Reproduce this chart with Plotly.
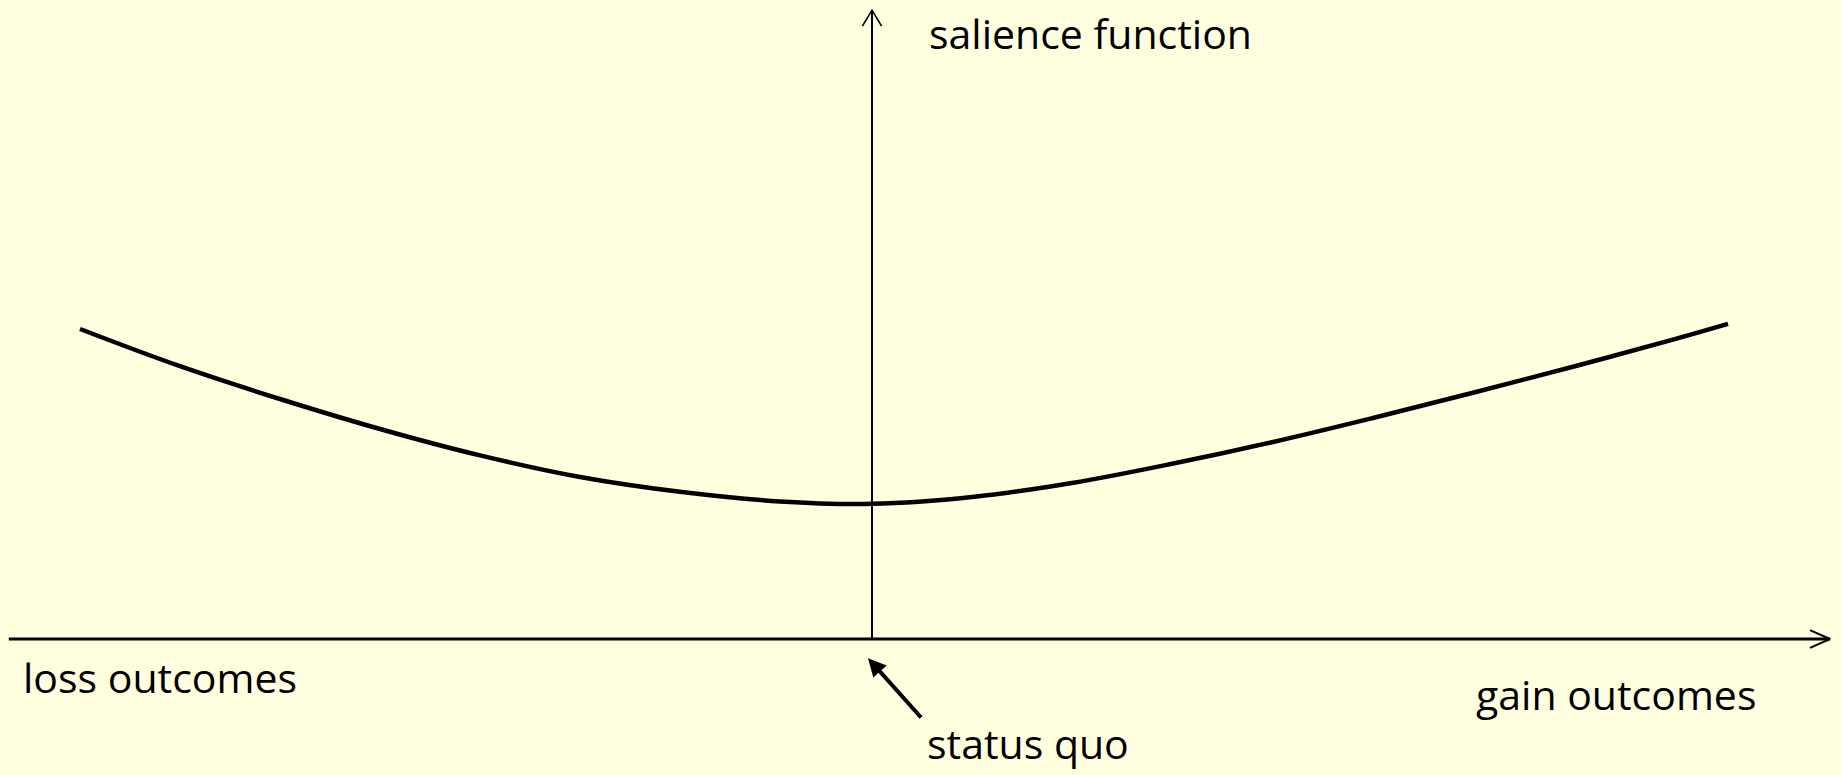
import plotly.graph_objects as go

# ---- data (outcome relative to status quo, salience value) ----
outcome = [-9.9, -8.65, -7.4, -6.15, -4.9, -3.65, -2.4, -1.15, 0.0,
           1.25, 2.5, 3.75, 5.0, 6.25, 7.5, 8.75, 10.0, 10.7]
salience = [3.875, 3.41, 3.0, 2.625, 2.295, 2.025, 1.84, 1.72, 1.69,
            1.775, 1.95, 2.19, 2.46, 2.76, 3.075, 3.40, 3.74, 3.94]

axis_x_extent = [-10.79, 11.975]
axis_y_extent = [0.0, 7.86]

label_y_axis = "salience function"
label_loss = "loss outcomes"
label_gain = "gain outcomes"
label_status = "status quo"

BG = "#FFFFE0"
FONT = "Open Sans"

fig = go.Figure()

# horizontal axis
fig.add_trace(go.Scatter(x=axis_x_extent, y=[0, 0], mode="lines",
                         line=dict(color="black", width=3), hoverinfo="skip"))
# horizontal arrow head (open chevron)
fig.add_trace(go.Scatter(x=[axis_x_extent[1] - 0.25, axis_x_extent[1], axis_x_extent[1] - 0.25],
                         y=[0.11, 0, -0.11], mode="lines",
                         line=dict(color="black", width=2), hoverinfo="skip"))
# vertical axis
fig.add_trace(go.Scatter(x=[0, 0], y=axis_y_extent, mode="lines",
                         line=dict(color="black", width=2), hoverinfo="skip"))
# vertical arrow head (open chevron)
fig.add_trace(go.Scatter(x=[-0.12, 0, 0.12],
                         y=[axis_y_extent[1] - 0.2, axis_y_extent[1], axis_y_extent[1] - 0.2],
                         mode="lines", line=dict(color="black", width=1.6), hoverinfo="skip"))
# salience curve
fig.add_trace(go.Scatter(x=outcome, y=salience, mode="lines",
                         line=dict(color="black", width=4.5, shape="spline", smoothing=1.0),
                         hoverinfo="skip"))

txt = dict(family=FONT, size=41, color="black")
fig.add_annotation(x=0.69, y=7.57, text=label_y_axis, showarrow=False,
                   xanchor="left", yanchor="middle", font=txt)
fig.add_annotation(x=-10.64, y=-0.48, text=label_loss, showarrow=False,
                   xanchor="left", yanchor="middle", font=txt)
fig.add_annotation(x=7.53, y=-0.69, text=label_gain, showarrow=False,
                   xanchor="left", yanchor="middle", font=txt)
fig.add_annotation(x=0.66, y=-1.68, text=label_status, showarrow=False,
                   xanchor="left", yanchor="bottom", font=txt)
# status quo pointer arrow
fig.add_annotation(x=-0.05, y=-0.24, ax=0.63, ay=-1.0, axref="x", ayref="y",
                   xref="x", yref="y", text="", showarrow=True,
                   arrowhead=2, arrowsize=0.9, arrowwidth=4, arrowcolor="black",
                   standoff=0, startstandoff=0)

fig.update_xaxes(range=[-872 / 80, (1841 - 872) / 80], visible=False, fixedrange=True)
fig.update_yaxes(range=[-(775 - 639) / 80, 639 / 80], visible=False, fixedrange=True)
fig.update_layout(width=1841, height=775, margin=dict(l=0, r=0, t=0, b=0),
                  paper_bgcolor=BG, plot_bgcolor=BG, showlegend=False)

fig.write_html("out.html", config={"displayModeBar": False},
               post_script="document.body.style.margin='0';document.body.style.overflow='hidden';")
